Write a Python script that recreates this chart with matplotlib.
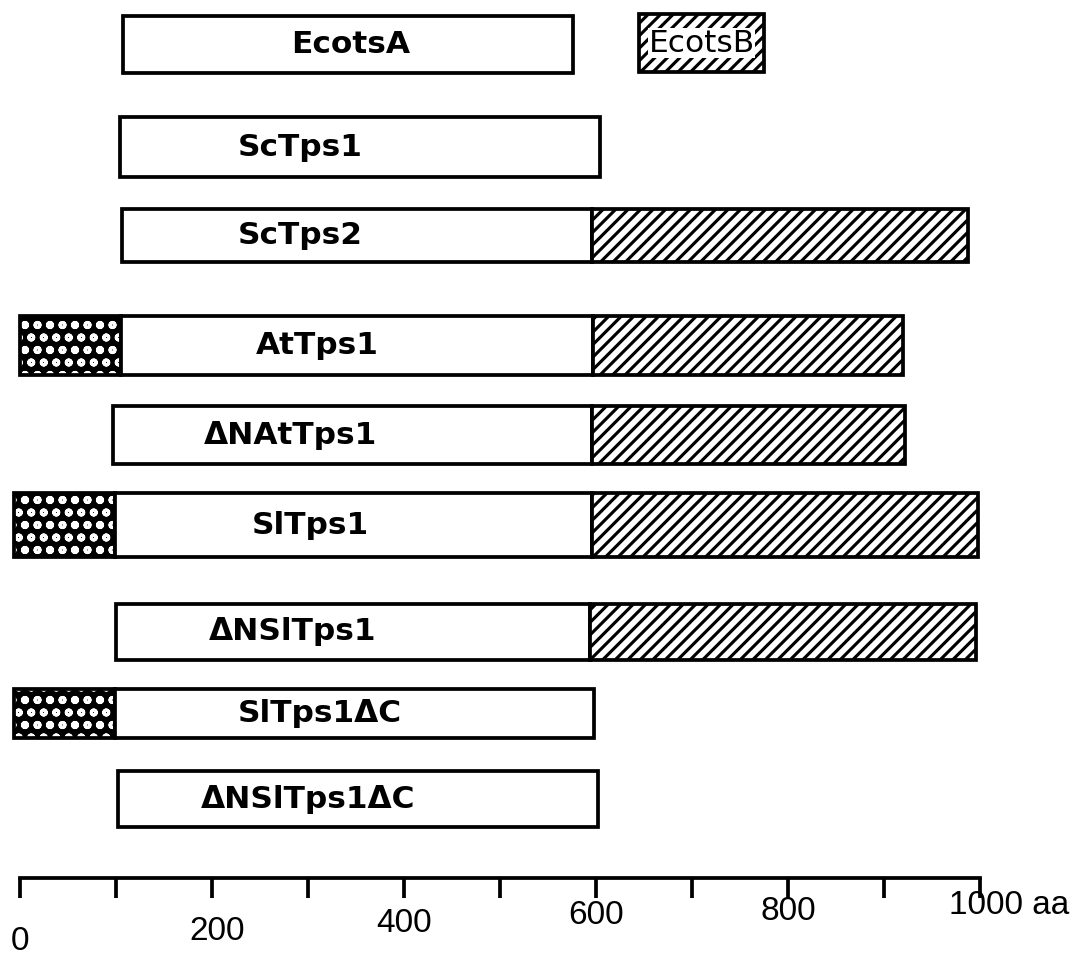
import numpy as np
import matplotlib
matplotlib.use('Agg')
import matplotlib.pyplot as plt

# domain map of the trehalose-6-phosphate synthase constructs (positions in aa)
proteins = ['EcotsA', 'ScTps1', 'ScTps2', 'AtTps1', 'ΔNAtTps1',
            'SlTps1', 'ΔNSlTps1', 'SlTps1ΔC', 'ΔNSlTps1ΔC']
nterm_start = [np.nan, np.nan, np.nan, 0, np.nan, -6, np.nan, -6, np.nan]
core_start = [107, 104, 106, 105, 97, 99, 100, 99, 102]
core_end = [576, 604, 596, 597, 596, 596, 594, 598, 602]
cterm_end = [np.nan, np.nan, 988, 920, 922, 998, 996, np.nan, np.nan]
ecotsb_start = 645
ecotsb_end = 775
scale_ticks = [0, 100, 200, 300, 400, 500, 600, 700, 800, 900, 1000]
scale_labels = ['0', '200', '400', '600', '800', '1000 aa']

plt.rcParams['font.family'] = ['DejaVu Sans']
plt.rcParams['hatch.linewidth'] = 1.5

fig = plt.figure(figsize=(1074 / 150, 971 / 150), dpi=150)
ax = fig.add_axes([0, 0, 1, 1])
ax.set_xlim(-20 / 0.96, (1074 - 20) / 0.96)
ax.set_ylim(971, 0)

# vertical layout (figure pixels) of each row
row_y = [44.5, 147, 235.5, 345.5, 435, 525, 632, 713.5, 799]
row_h = [57, 60, 53, 59, 58, 64, 56, 49, 56]
label_x = [344, 292, 292, 310, 282, 302, 284, 312, 300]
lw = 1.8

for i, name in enumerate(proteins):
    y, h = row_y[i], row_h[i]
    # N-terminal extension: black with white dots
    if not np.isnan(nterm_start[i]):
        w = core_start[i] - nterm_start[i]
        ax.barh(y, w, left=nterm_start[i], height=h, color='black', linewidth=0)
        ax.barh(y, w, left=nterm_start[i], height=h, facecolor='none',
                edgecolor='white', hatch='oo', linewidth=0)
        ax.barh(y, w, left=nterm_start[i], height=h, facecolor='none',
                edgecolor='black', linewidth=lw)
    # conserved TPS domain
    ax.barh(y, core_end[i] - core_start[i], left=core_start[i], height=h,
            facecolor='white', edgecolor='black', linewidth=lw)
    # C-terminal phosphatase-like domain
    if not np.isnan(cterm_end[i]):
        ax.barh(y, cterm_end[i] - core_end[i], left=core_end[i], height=h,
                facecolor='white', edgecolor='black', hatch='////', linewidth=lw)
    ax.text(label_x[i], y, name, ha='center', va='center',
            fontsize=15, fontweight='bold')

# EcotsB sits on its own next to EcotsA
ax.barh(43, ecotsb_end - ecotsb_start, left=ecotsb_start, height=58,
        facecolor='white', edgecolor='black', hatch='////', linewidth=lw)
ax.text((ecotsb_start + ecotsb_end) / 2, 43, 'EcotsB', ha='center', va='center',
        fontsize=15, bbox=dict(facecolor='white', edgecolor='none', pad=0.3))

# scale bar
for s in ['top', 'left', 'right']:
    ax.spines[s].set_visible(False)
ax.spines['bottom'].set_position(('data', 878))
ax.spines['bottom'].set_bounds(0, 1000)
ax.spines['bottom'].set_linewidth(1.8)
ax.set_xticks(scale_ticks)
ax.set_xticklabels([])
ax.tick_params(axis='x', direction='out', length=9.5, width=1.8)
ax.set_yticks([])

label_pos = [0, 205, 400, 600, 800, 968]
label_y = [941, 931, 923, 916, 911, 906]
for lx, ly, t in zip(label_pos, label_y, scale_labels):
    ax.text(lx, ly, t, ha='left' if t.endswith('aa') else 'center',
            va='center', fontsize=16, family='Liberation Sans')

fig.savefig('out.png', dpi=150, facecolor='white')
